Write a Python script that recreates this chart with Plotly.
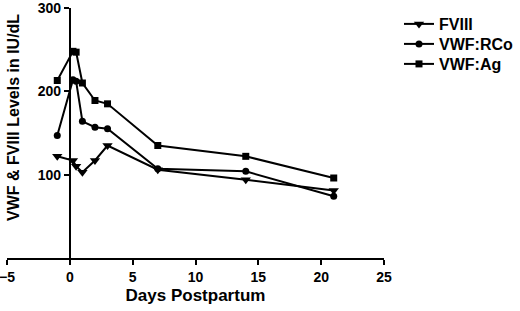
import plotly.graph_objects as go

days = [-1, 0.25, 0.5, 1, 2, 3, 7, 14, 21]
fviii = [122, 117, 110, 103, 117, 135, 106, 94, 81]
vwf_rco = [147, 214, 212, 164, 157, 155, 107, 104, 74]
vwf_ag = [213, 248, 247, 210, 189, 185, 135, 122, 96]

x_ticks = [-5, 0, 5, 10, 15, 20, 25]
y_ticks = [100, 200, 300]

FONT = "Arial, Liberation Sans, sans-serif"

L, R, T, B = 7, 136, 8, 53
W, H = 520, 311
PW, PH = W - L - R, H - T - B


def py(p):
    return 1 - (p - T) / PH


def px(p):
    return (p - L) / PW


fig = go.Figure()
series = [
    ("FVIII", fviii, "triangle-down", 9, "legend", 24),
    ("VWF:RCo", vwf_rco, "circle", 7, "legend2", 44),
    ("VWF:Ag", vwf_ag, "square", 7, "legend3", 64),
]
legends = {}
for name, vals, sym, sz, lg, ypix in series:
    fig.add_trace(go.Scatter(
        x=days, y=vals, name=name, mode="lines+markers", legend=lg,
        line=dict(color="black", width=2),
        marker=dict(symbol=sym, size=sz, color="black"),
    ))
    legends[lg] = dict(
        x=px(399), y=py(ypix), xanchor="left", yanchor="middle",
        font=dict(family=FONT, size=16, color="black", weight="bold"),
        itemwidth=30, bgcolor="rgba(0,0,0,0)", borderwidth=0,
    )

fig.update_layout(
    width=W, height=H,
    margin=dict(l=L, r=R, t=T, b=B, autoexpand=False),
    plot_bgcolor="white", paper_bgcolor="white",
    font=dict(family=FONT, color="black", size=14),
    showlegend=True,
    xaxis=dict(
        range=[-5, 25], tickvals=x_ticks, showgrid=False, zeroline=False,
        showline=True, linecolor="black", linewidth=2,
        ticks="outside", ticklen=5, tickwidth=2, tickcolor="black",
        tickfont=dict(family=FONT, size=14, weight="bold"),
        ticklabeloverflow="allow", automargin=False,
        title=dict(text="Days Postpartum", standoff=5,
                   font=dict(family=FONT, size=17, weight="bold")),
    ),
    yaxis=dict(
        range=[0, 300], tickvals=y_ticks, showgrid=False, zeroline=False,
        showline=True, linecolor="black", linewidth=2,
        ticks="outside", ticklen=5, tickwidth=2, tickcolor="black",
        tickfont=dict(family=FONT, size=14, weight="bold"),
        ticklabeloverflow="allow", automargin=False,
        anchor="free", position=5 / 30,
    ),
    annotations=[dict(
        text="VWF & FVIII Levels in IU/dL", textangle=-90,
        xref="paper", yref="paper", x=px(14), y=py(118), xanchor="center", yanchor="middle",
        showarrow=False, font=dict(family=FONT, size=16, weight="bold", color="black"),
    )],
    **legends,
)

fig.write_html("out.html", config={"displayModeBar": False},
               post_script="document.body.style.margin='0px';")
